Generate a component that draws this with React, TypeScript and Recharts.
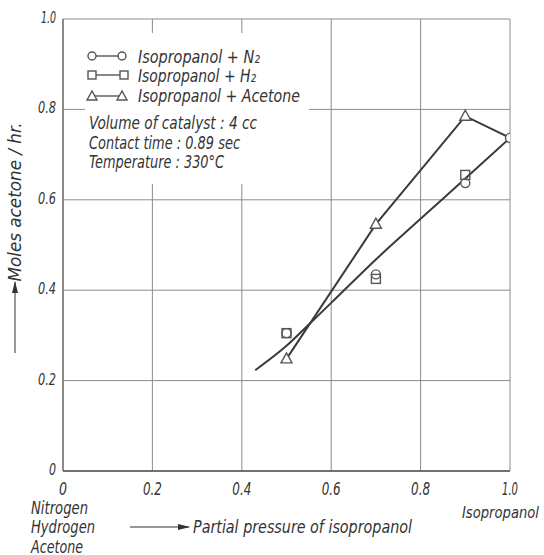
import React from 'react';
import { ComposedChart, Line, Scatter, XAxis, YAxis, CartesianGrid } from 'recharts';

// Measured points (partial pressure of isopropanol -> moles acetone / hr)
const N2_X = [0.5, 0.7, 0.9, 1.0];
const N2_Y = [0.305, 0.435, 0.637, 0.737];
const H2_X = [0.5, 0.7, 0.9];
const H2_Y = [0.305, 0.425, 0.655];
const ACETONE_X = [0.5, 0.7, 0.9, 1.0];
const ACETONE_Y = [0.248, 0.546, 0.785, 0.737];
// Drawn curve through N2 / H2 points
const FIT_X = [0.43, 0.5, 0.553, 0.6, 0.7, 0.8, 0.9, 1.0];
const FIT_Y = [0.223, 0.277, 0.327, 0.372, 0.468, 0.558, 0.647, 0.737];

const X_TICKS = [0, 0.2, 0.4, 0.6, 0.8, 1.0];
const X_TICK_LABELS = ['0', '0.2', '0.4', '0.6', '0.8', '1.0'];
const Y_TICKS = [0, 0.2, 0.4, 0.6, 0.8, 1.0];
const Y_TICK_LABELS = ['0', '0.2', '0.4', '0.6', '0.8', '1.0'];

const zip = (xs: number[], ys: number[]) => xs.map((x, i) => ({ x, y: ys[i] }));
const n2Data = zip(N2_X, N2_Y);
const h2Data = zip(H2_X, H2_Y);
const acetoneData = zip(ACETONE_X, ACETONE_Y);
const fitData = zip(FIT_X, FIT_Y);

const FONT = '"DejaVu Sans Condensed", "DejaVu Sans", sans-serif';
const INK = '#333';
const LINE = '#3a3a3a';
const MARK = '#555';

const textStyle: React.CSSProperties = { fontFamily: FONT, fontStyle: 'italic', fill: INK };

const labelWidth = (s: string) => (s === '0' ? 7 : s === '1.0' ? 15 : 18);

const T = (p: {
  x: number;
  y: number;
  w: number;
  size?: number;
  anchor?: 'start' | 'middle' | 'end';
  transform?: string;
  children: React.ReactNode;
}) => (
  <text
    x={p.x}
    y={p.y}
    textLength={p.w}
    lengthAdjust="spacingAndGlyphs"
    fontSize={p.size ?? 18}
    textAnchor={p.anchor ?? 'start'}
    transform={p.transform}
    style={textStyle}
  >
    {p.children}
  </text>
);

const XTick = (props: any) => {
  const { x, y, payload } = props;
  const i = X_TICKS.indexOf(payload.value);
  const s = X_TICK_LABELS[i] ?? String(payload.value);
  return (
    <T x={x} y={y + 24} w={labelWidth(s) + 1} size={17} anchor="middle">
      {s}
    </T>
  );
};

const YTick = (props: any) => {
  const { x, y, payload } = props;
  const i = Y_TICKS.indexOf(payload.value);
  const s = Y_TICK_LABELS[i] ?? String(payload.value);
  return (
    <T x={x - 7} y={y + 4} w={labelWidth(s)} size={16} anchor="end">
      {s}
    </T>
  );
};

const CircleShape = (p: any) => (
  <circle cx={p.cx} cy={p.cy} r={4.5} fill="#fff" stroke={MARK} strokeWidth={1.4} />
);
const SquareShape = (p: any) => (
  <rect x={p.cx - 4.5} y={p.cy - 4.5} width={9} height={9} fill="none" stroke={MARK} strokeWidth={1.4} />
);
const TriangleShape = (p: any) => (
  <polygon
    points={`${p.cx},${p.cy - 6} ${p.cx - 5.5},${p.cy + 4} ${p.cx + 5.5},${p.cy + 4}`}
    fill="#fff"
    stroke={MARK}
    strokeWidth={1.4}
  />
);

export default function App() {
  return (
    <div style={{ position: 'absolute', left: 0, top: 0, width: 544, height: 555, background: '#fff' }}>
      <ComposedChart width={544} height={555} margin={{ top: 19, right: 34, bottom: 54, left: 23 }}>
        <CartesianGrid stroke="#8c8c8c" strokeWidth={1} horizontalValues={Y_TICKS} verticalValues={X_TICKS} />
        <XAxis
          type="number"
          dataKey="x"
          domain={[0, 1]}
          ticks={X_TICKS}
          height={30}
          tickLine={false}
          tickSize={0}
          tickMargin={0}
          axisLine={{ stroke: '#555', strokeWidth: 1.6 }}
          tick={<XTick />}
          allowDataOverflow
        />
        <YAxis
          type="number"
          dataKey="y"
          domain={[0, 1]}
          ticks={Y_TICKS}
          width={40}
          tickLine={false}
          tickSize={0}
          tickMargin={0}
          axisLine={{ stroke: '#666', strokeWidth: 1.2 }}
          tick={<YTick />}
          allowDataOverflow
        />
        <Line data={fitData} dataKey="y" type="monotone" stroke={LINE} strokeWidth={2} dot={false} isAnimationActive={false} />
        <Line data={acetoneData} dataKey="y" type="linear" stroke={LINE} strokeWidth={2} dot={false} isAnimationActive={false} />
        <Scatter data={n2Data} dataKey="y" shape={CircleShape} isAnimationActive={false} />
        <Scatter data={h2Data} dataKey="y" shape={SquareShape} isAnimationActive={false} />
        <Scatter data={acetoneData.slice(0, 3)} dataKey="y" shape={TriangleShape} isAnimationActive={false} />
      </ComposedChart>
      <svg width={544} height={555} style={{ position: 'absolute', left: 0, top: 0, pointerEvents: 'none' }}>
        <defs>
          <marker id="arrowHead" markerWidth="12" markerHeight="6" refX="11" refY="3" orient="auto" markerUnits="userSpaceOnUse">
            <polygon points="0,0 12,3 0,6" fill={INK} />
          </marker>
        </defs>
        {/* legend box */}
        <rect x={85} y={33} width={224} height={151} fill="#fff" />
        <g stroke={MARK} strokeWidth={1.4} fill="#fff">
          <line x1={92} y1={56} x2={122} y2={56} />
          <circle cx={92} cy={56} r={4} />
          <circle cx={122} cy={56} r={4} />
          <line x1={92} y1={75} x2={124} y2={75} />
          <rect x={88} y={71} width={8} height={8} />
          <rect x={120} y={71} width={8} height={8} />
          <line x1={92} y1={96} x2={122} y2={96} />
          <polygon points="92,91 87,100 97,100" />
          <polygon points="122,91 117,100 127,100" />
        </g>
        <T x={138} y={63} w={122}>Isopropanol + N₂</T>
        <T x={138} y={82} w={118}>Isopropanol + H₂</T>
        <T x={138} y={102} w={162}>Isopropanol + Acetone</T>
        <T x={89} y={129} w={168}>Volume of catalyst : 4 cc</T>
        <T x={89} y={149} w={151}>Contact time : 0.89 sec</T>
        <T x={89} y={168} w={135}>Temperature : 330°C</T>
        {/* y axis title */}
        <line x1={15} y1={353} x2={15} y2={282} stroke={INK} strokeWidth={1} markerEnd="url(#arrowHead)" />
        <T x={15} y={208} w={159} anchor="middle" transform="rotate(-90 15 202)">
          Moles acetone / hr.
        </T>
        {/* x axis title */}
        <line x1={130} y1={527} x2={189} y2={527} stroke={INK} strokeWidth={1} markerEnd="url(#arrowHead)" />
        <T x={193} y={533} w={219}>Partial pressure of isopropanol</T>
        <T x={31} y={514} w={57} size={17}>Nitrogen</T>
        <T x={31} y={533} w={64} size={17}>Hydrogen</T>
        <T x={31} y={553} w={52} size={17}>Acetone</T>
        <T x={462} y={518} w={77} size={16}>Isopropanol</T>
      </svg>
    </div>
  );
}
